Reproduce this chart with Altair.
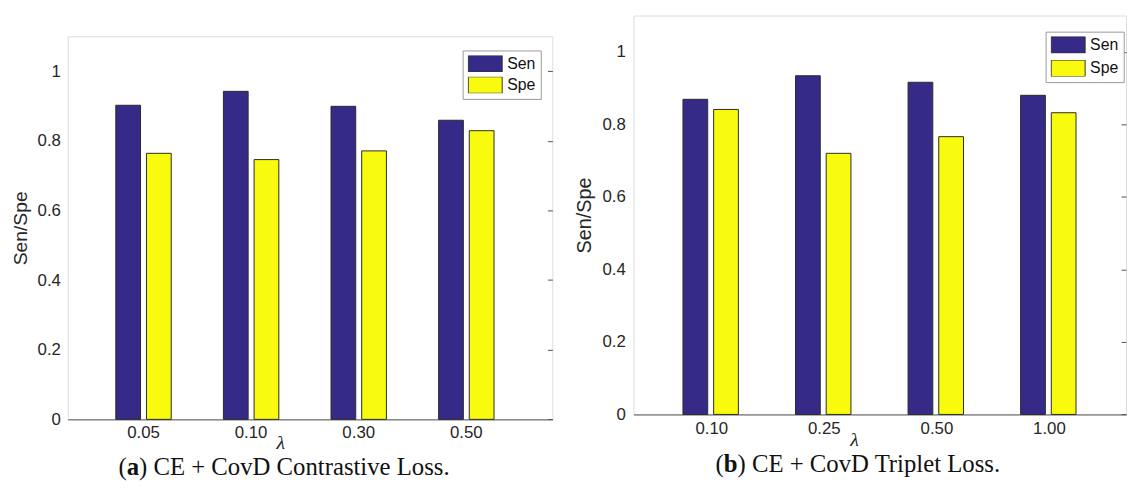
import altair as alt
import pandas as pd

# ---- data ----
lam_a = ["0.05", "0.10", "0.30", "0.50"]
sen_a = [0.902, 0.942, 0.899, 0.859]
spe_a = [0.764, 0.746, 0.771, 0.829]

lam_b = ["0.10", "0.25", "0.50", "1.00"]
sen_b = [0.869, 0.934, 0.916, 0.880]
spe_b = [0.841, 0.720, 0.766, 0.832]

metrics = ["Sen", "Spe"]
colors = ["#352a87", "#f9fb0e"]
y_ticks = [0, 0.2, 0.4, 0.6, 0.8, 1.0]
caption_a = ["(", "a", ") CE + CovD Contrastive Loss."]
caption_b = ["(", "b", ") CE + CovD Triplet Loss."]

SANS = "Liberation Sans"
SERIF = "Liberation Serif"
TXT = "#262626"


def panel(lams, sen, spe, caption, g):
    W, H = g["W"], g["H"]
    df = pd.DataFrame({
        "lam": lams + lams,
        "metric": [metrics[0]] * len(lams) + [metrics[1]] * len(lams),
        "value": sen + spe,
    })
    x = alt.X(
        "lam:N", sort=lams,
        scale=alt.Scale(paddingInner=g["pi"], paddingOuter=g["po"], align=g["al"]),
        axis=alt.Axis(
            title="λ", titleFont=SERIF, titleFontStyle="italic", titleFontSize=20,
            titleFontWeight="normal", titleColor=TXT, titleX=g["ltx"], titleY=g["lty"],
            titleBaseline="alphabetic", titleAlign="center",
            labelAngle=0, labelFont=SANS, labelFontSize=17, labelColor=TXT,
            labelPadding=g["xlp"], ticks=False, domainColor="#555555", domainWidth=1,
        ),
    )
    xo = alt.XOffset("metric:N", sort=metrics,
                     scale=alt.Scale(paddingInner=g["opi"], paddingOuter=0))
    y_left = alt.Y(
        "value:Q",
        scale=alt.Scale(domain=[0, 1.1], nice=False, zero=True),
        axis=alt.Axis(
            values=y_ticks, format="~g", title="Sen/Spe", titleFont=SANS,
            titleFontSize=g["ytfs"], titleFontWeight="normal", titleColor=TXT,
            titleAngle=270, titleBaseline="alphabetic", titleAlign="center",
            titleX=g["ytx"], titleY=H / 2,
            labelFont=SANS, labelFontSize=17, labelColor=TXT, labelPadding=g["ylp"],
            ticks=False, domain=False, grid=False,
        ),
    )
    y_right = alt.Y(
        "value:Q",
        scale=alt.Scale(domain=[0, 1.1], nice=False, zero=True),
        axis=alt.Axis(
            orient="right", values=y_ticks, labels=False, title="", domain=False,
            ticks=True, tickSize=5, offset=-5, tickColor="#555555", grid=False,
        ),
    )
    color = alt.Color(
        "metric:N", sort=metrics,
        scale=alt.Scale(domain=metrics, range=colors),
        legend=alt.Legend(
            title=None, orient="none", legendX=g["lgx"], legendY=g["lgy"],
            direction="vertical",
            symbolType="M-1,-1H3.11V1H-1Z", symbolSize=16.7 * 16.7,
            symbolStrokeColor="#333333", symbolStrokeWidth=1,
            clipHeight=16.7,
            labelFont=SANS, labelFontSize=16, labelColor="#111111", labelOffset=22,
            labelExpr=g["lexpr"],
            rowPadding=g["lrp"], padding=5, strokeColor="#999999", fillColor="white",
        ),
    )
    bars = alt.Chart(df).mark_bar(stroke="#2b2b2b", strokeWidth=1).encode(
        x=x, xOffset=xo, y=y_left, color=color
    )
    ghost = alt.Chart(df).mark_bar(opacity=0).encode(x=x, xOffset=xo, y=y_right)

    cx, cy = g["capx"], g["capy"]
    w_paren = 0.333 * 25
    w_letter = g["letw"] * 25
    pieces = []
    for txt, xx, wt in [
        (caption[0], cx, "normal"),
        (caption[1], cx + w_paren, "bold"),
        (caption[2], cx + w_paren + w_letter, "normal"),
    ]:
        pieces.append(
            alt.Chart(pd.DataFrame({"t": [txt]}))
            .mark_text(align="left", baseline="alphabetic", font=SERIF, fontSize=25,
                       fontWeight=wt, color="#111111")
            .encode(x=alt.value(xx), y=alt.value(cy), text="t:N")
        )

    ch = alt.layer(bars, ghost, *pieces).resolve_axis(y="independent").properties(
        width=W, height=H
    )
    return ch


ga = dict(W=490, H=387.3, pi=0.485, po=0.4945, al=0.4517, opi=0.1935,
          ltx=214.8, lty=29, xlp=5, ytfs=19.5, ytx=-41.9, ylp=7.4,
          lgx=399.3, lgy=14.3, lrp=4.6, capx=51.3, capy=443.3, letw=0.5,
          lexpr="datum.label + '\u00a0\u00a0'")
gb = dict(W=498, H=403.3, pi=0.4877, po=0.432, al=0.509, opi=0.195,
          ltx=223, lty=31, xlp=6, ytfs=20, ytx=-43.5, ylp=8.3,
          lgx=416.7, lgy=16.3, lrp=6.7, capx=83, capy=462, letw=0.556,
          lexpr="datum.label")

# empty strip above the left panel so that its frame starts lower than the right one
spacer = (
    alt.Chart(pd.DataFrame({"s": [""]}))
    .mark_text()
    .encode(text="s:N")
    .properties(width=490, height=18.7, view=alt.ViewBackground(stroke="transparent"))
)

left = (
    alt.vconcat(spacer, panel(lam_a, sen_a, spe_a, caption_a, ga), spacing=0)
    .resolve_scale(color="independent")
    .resolve_legend(color="independent")
)
right = panel(lam_b, sen_b, spe_b, caption_b, gb)

chart = (
    alt.hconcat(left, right, spacing=21)
    .resolve_scale(color="independent")
    .resolve_legend(color="independent")
    .properties(padding={"left": 1.4, "top": 4, "right": 0, "bottom": 0})
    .configure_view(stroke="#a0a0a0", strokeWidth=1)
    .configure(background="white")
)

chart.save("out.html", embed_options={"renderer": "svg", "actions": False})
